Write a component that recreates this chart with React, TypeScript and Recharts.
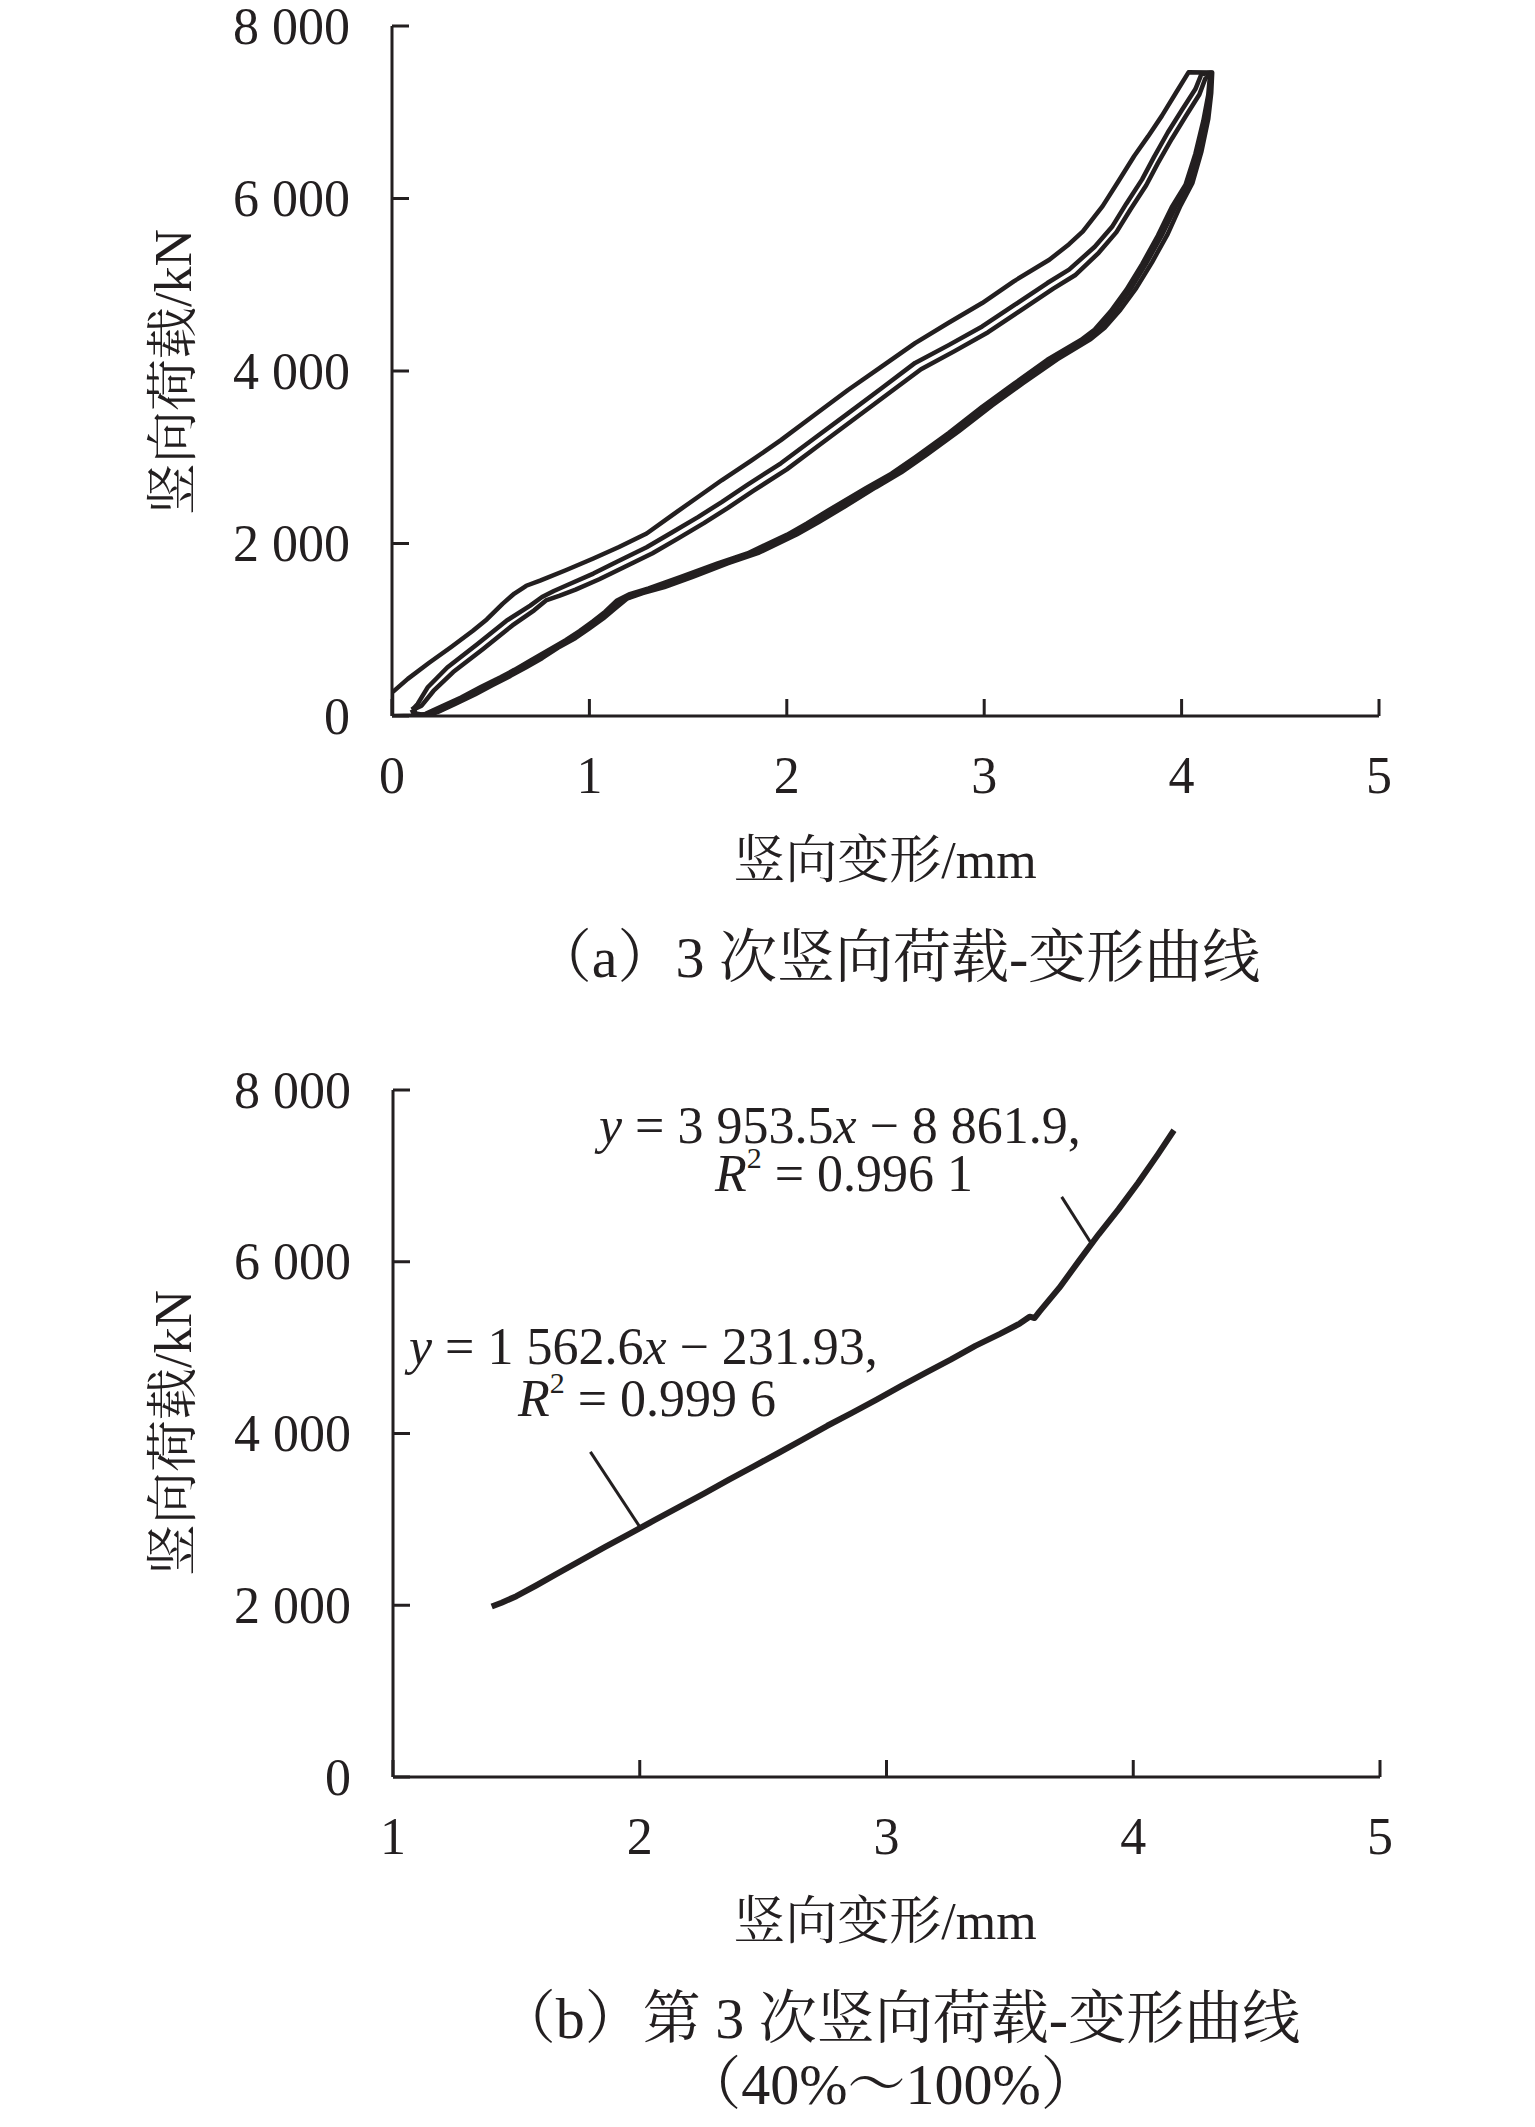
import React from 'react';
import { LineChart, Line, XAxis, YAxis, ReferenceLine } from 'recharts';

const INK = '#231f20';
const SERIF = "'Liberation Serif','Times New Roman','Noto Serif CJK SC','Noto Sans CJK SC',serif";

// ---- axes ----
const yTicks = [0, 2000, 4000, 6000, 8000];
const yTickLabels = ['0', '2 000', '4 000', '6 000', '8 000'];
const xTicksA = [0, 1, 2, 3, 4, 5];
const xTicksB = [1, 2, 3, 4, 5];

// ---- panel (a): three load-deformation loops [deformation mm, load kN] ----
const loading1: number[][] = [
  [0.00, 0], [0.12, 5], [0.17, 25], [0.25, 110], [0.35, 215], [0.45, 335], [0.55, 450], [0.62, 535],
  [0.70, 640], [0.79, 760], [0.88, 880], [0.95, 985], [1.02, 1100], [1.08, 1210], [1.14, 1340],
  [1.20, 1410], [1.30, 1480], [1.46, 1610], [1.65, 1770], [1.80, 1885], [2.00, 2100], [2.10, 2230],
  [2.21, 2385], [2.40, 2640], [2.53, 2810], [2.65, 3000], [2.82, 3280], [2.99, 3585], [3.15, 3850],
  [3.32, 4130], [3.49, 4360], [3.56, 4480], [3.64, 4690], [3.72, 4940], [3.80, 5240], [3.88, 5570],
  [3.95, 5900], [4.02, 6160], [4.07, 6520], [4.11, 6900], [4.135, 7200], [4.145, 7460],
];
const unloading1: number[][] = [
  [4.145, 7460], [4.035, 7463], [3.97, 7220], [3.90, 6958], [3.83, 6720], [3.76, 6493], [3.68, 6200],
  [3.60, 5912], [3.50, 5620], [3.43, 5470], [3.33, 5290], [3.15, 5040], [2.99, 4788], [2.82, 4560],
  [2.65, 4323], [2.48, 4050], [2.31, 3780], [2.14, 3490], [1.97, 3198], [1.82, 2960], [1.67, 2733],
  [1.55, 2539], [1.42, 2330], [1.29, 2116], [1.15, 1960], [1.02, 1826], [0.88, 1690], [0.75, 1570],
  [0.68, 1510], [0.62, 1420], [0.56, 1300], [0.48, 1120], [0.41, 988], [0.30, 800], [0.19, 620],
  [0.08, 430], [0.00, 271], [0.00, 0],
];
const loading2: number[][] = [
  [0.10, 75], [0.11, 25], [0.15, 10], [0.21, 30], [0.29, 115], [0.39, 225], [0.48, 335], [0.57, 440],
  [0.65, 540], [0.73, 645], [0.81, 765], [0.90, 880], [0.97, 990], [1.04, 1105], [1.10, 1215],
  [1.16, 1335], [1.23, 1405], [1.33, 1475], [1.49, 1605], [1.67, 1765], [1.83, 1885], [2.02, 2095],
  [2.13, 2235], [2.24, 2385], [2.42, 2640], [2.55, 2815], [2.67, 3005], [2.84, 3285], [3.01, 3585],
  [3.17, 3855], [3.34, 4125], [3.51, 4360], [3.58, 4485], [3.66, 4695], [3.74, 4945], [3.82, 5245],
  [3.90, 5575], [3.97, 5905], [4.04, 6165], [4.09, 6525], [4.125, 6905], [4.145, 7205], [4.15, 7460],
];
const unloading2: number[][] = [
  [4.15, 7460], [4.10, 7440], [4.07, 7269], [4.00, 7020], [3.93, 6765], [3.86, 6480], [3.80, 6222],
  [3.72, 5940], [3.65, 5679], [3.56, 5440], [3.43, 5175], [3.32, 5020], [3.15, 4760], [2.99, 4516],
  [2.82, 4300], [2.65, 4094], [2.48, 3800], [2.31, 3509], [2.14, 3220], [1.97, 2930], [1.80, 2680],
  [1.67, 2480], [1.55, 2306], [1.42, 2130], [1.29, 1957], [1.15, 1800], [1.02, 1651], [0.90, 1530],
  [0.82, 1450], [0.76, 1380], [0.70, 1280], [0.58, 1105], [0.43, 830], [0.28, 562], [0.18, 330],
  [0.13, 140], [0.11, 90], [0.10, 75],
];
const loading3: number[][] = [
  [0.11, 80], [0.12, 30], [0.17, 10], [0.23, 45], [0.32, 140], [0.42, 250], [0.51, 360], [0.60, 465],
  [0.68, 565], [0.76, 670], [0.84, 790], [0.93, 905], [1.00, 1015], [1.07, 1130], [1.13, 1245],
  [1.19, 1360], [1.27, 1425], [1.38, 1495], [1.52, 1610], [1.70, 1770], [1.86, 1895], [2.05, 2105],
  [2.16, 2245], [2.27, 2395], [2.45, 2650], [2.58, 2825], [2.70, 3015], [2.87, 3300], [3.04, 3600],
  [3.20, 3865], [3.37, 4135], [3.54, 4370], [3.61, 4500], [3.69, 4710], [3.77, 4960], [3.85, 5260],
  [3.93, 5590], [3.995, 5920], [4.055, 6180], [4.10, 6540], [4.135, 6920], [4.15, 7220], [4.155, 7460],
];
const unloading3: number[][] = [
  [4.155, 7460], [4.12, 7390], [4.09, 7205], [4.02, 6950], [3.95, 6690], [3.88, 6410], [3.82, 6150],
  [3.74, 5870], [3.67, 5610], [3.58, 5370], [3.46, 5110], [3.35, 4955], [3.18, 4695], [3.02, 4450],
  [2.85, 4230], [2.68, 4020], [2.51, 3730], [2.34, 3440], [2.17, 3150], [2.00, 2860], [1.83, 2610],
  [1.70, 2410], [1.58, 2236], [1.45, 2060], [1.32, 1887], [1.18, 1730], [1.05, 1585], [0.93, 1465],
  [0.85, 1395], [0.78, 1340], [0.72, 1225], [0.61, 1050], [0.46, 775], [0.31, 510], [0.21, 290],
  [0.15, 120], [0.12, 88], [0.11, 80],
];

// ---- panel (b): third loading, 40%~100% ----
const thirdCycle: number[][] = [
  [1.40, 1985], [1.44, 2030], [1.50, 2105], [1.58, 2230], [1.66, 2360], [1.76, 2520], [1.86, 2680],
  [1.96, 2835], [2.06, 2990], [2.16, 3145], [2.26, 3300], [2.36, 3460], [2.46, 3615], [2.56, 3770],
  [2.66, 3930], [2.76, 4090], [2.86, 4240], [2.96, 4395], [3.06, 4555], [3.16, 4710], [3.26, 4860],
  [3.36, 5020], [3.46, 5160], [3.54, 5280], [3.58, 5360], [3.60, 5345], [3.62, 5420], [3.70, 5695],
  [3.78, 6010], [3.86, 6320], [3.94, 6610], [4.02, 6920], [4.10, 7250], [4.165, 7531],
];
const leaderUpper = [{ x: 3.71, y: 6755 }, { x: 3.83, y: 6212 }];
const leaderLower = [{ x: 1.80, y: 3786 }, { x: 2.0, y: 2913 }];

const toPts = (...parts: number[][][]) => parts.flat().map(([x, y]) => ({ x, y }));
const loop1 = toPts(loading1, unloading1);
const loop2 = toPts(loading2, unloading2);
const loop3 = toPts(loading3, unloading3);
const curveB = toPts(thirdCycle);

const TICK_LEN = 17;
const FS = 52;
const AXW = 60; // axis band reserved by recharts (ticks drawn custom)

function YTick(props: any) {
  const { x, y, payload } = props;
  const idx = yTicks.indexOf(payload.value);
  return (
    <g>
      <line x1={x} x2={x + TICK_LEN} y1={y} y2={y} stroke={INK} strokeWidth={3} />
      <text x={x - 42} y={y} textAnchor="end" dominantBaseline="central" fontSize={FS} fontFamily={SERIF} fill={INK}>
        {idx >= 0 ? yTickLabels[idx] : String(payload.value)}
      </text>
    </g>
  );
}

function XTick(props: any) {
  const { x, y, payload } = props;
  return (
    <g>
      <line x1={x} x2={x} y1={y} y2={y - TICK_LEN} stroke={INK} strokeWidth={3} />
      <text x={x} y={y + 59} textAnchor="middle" dominantBaseline="central" fontSize={FS} fontFamily={SERIF} fill={INK}>
        {String(payload.value)}
      </text>
    </g>
  );
}

const axisLine = { stroke: INK, strokeWidth: 3 };

export default function App() {
  return (
    <div style={{ position: 'absolute', left: 0, top: 0, width: 1535, height: 2127, background: '#fff' }}>
      <div style={{ position: 'absolute', left: 0, top: 0 }}>
        <LineChart width={1535} height={1000} margin={{ top: 26, right: 156, bottom: 284 - AXW, left: 392 - AXW }}>
          <XAxis type="number" dataKey="x" domain={[0, 5]} ticks={xTicksA} interval={0} height={AXW}
            tickSize={0} tickMargin={0} tickLine={false} axisLine={axisLine} tick={XTick} allowDataOverflow />
          <YAxis type="number" dataKey="y" domain={[0, 8000]} ticks={yTicks} interval={0} width={AXW}
            tickSize={0} tickMargin={0} tickLine={false} axisLine={axisLine} tick={YTick} allowDataOverflow />
          <Line data={loop1} dataKey="y" type="linear" stroke={INK} strokeWidth={4.5} dot={false} isAnimationActive={false} strokeLinejoin="round" />
          <Line data={loop2} dataKey="y" type="linear" stroke={INK} strokeWidth={4.5} dot={false} isAnimationActive={false} strokeLinejoin="round" />
          <Line data={loop3} dataKey="y" type="linear" stroke={INK} strokeWidth={4.5} dot={false} isAnimationActive={false} strokeLinejoin="round" />
        </LineChart>
      </div>
      <div style={{ position: 'absolute', left: 0, top: 1040 }}>
        <LineChart width={1535} height={1000} margin={{ top: 50, right: 155, bottom: 263 - AXW, left: 393 - AXW }}>
          <XAxis type="number" dataKey="x" domain={[1, 5]} ticks={xTicksB} interval={0} height={AXW}
            tickSize={0} tickMargin={0} tickLine={false} axisLine={axisLine} tick={XTick} allowDataOverflow />
          <YAxis type="number" dataKey="y" domain={[0, 8000]} ticks={yTicks} interval={0} width={AXW}
            tickSize={0} tickMargin={0} tickLine={false} axisLine={axisLine} tick={YTick} allowDataOverflow />
          <ReferenceLine segment={leaderUpper} stroke={INK} strokeWidth={3} ifOverflow="visible" />
          <ReferenceLine segment={leaderLower} stroke={INK} strokeWidth={3} ifOverflow="visible" />
          <Line data={curveB} dataKey="y" type="linear" stroke={INK} strokeWidth={6} dot={false} isAnimationActive={false} strokeLinejoin="round" />
        </LineChart>
      </div>
      <svg width={1535} height={2127} style={{ position: 'absolute', left: 0, top: 0, pointerEvents: 'none' }}>
        <g fontFamily={SERIF} fill={INK}>
          <text x={173} y={372} fontSize={FS} textAnchor="middle" dominantBaseline="central" transform="rotate(-90 173 372)">竖向荷载/kN</text>
          <text x={885} y={860} fontSize={FS} textAnchor="middle" dominantBaseline="central">竖向变形/mm</text>
          <text x={897} y={957} fontSize={58} textAnchor="middle" dominantBaseline="central">（a）3 次竖向荷载-变形曲线</text>
          <text x={173} y={1433} fontSize={FS} textAnchor="middle" dominantBaseline="central" transform="rotate(-90 173 1433)">竖向荷载/kN</text>
          <text x={885} y={1921} fontSize={FS} textAnchor="middle" dominantBaseline="central">竖向变形/mm</text>
          <text x={899} y={2018} fontSize={58} textAnchor="middle" dominantBaseline="central">（b）第 3 次竖向荷载-变形曲线</text>
          <text x={891} y={2084} fontSize={58} textAnchor="middle" dominantBaseline="central">（40%～100%）</text>
          <text x={599} y={1125} fontSize={FS} dominantBaseline="central">
            <tspan fontStyle="italic">y</tspan> = 3 953.5<tspan fontStyle="italic">x</tspan> − 8 861.9,
          </text>
          <text x={715} y={1173} fontSize={FS} dominantBaseline="central">
            <tspan fontStyle="italic">R</tspan><tspan fontSize={30} dy={-16}>2</tspan><tspan dy={16}> = 0.996 1</tspan>
          </text>
          <text x={409} y={1346} fontSize={FS} dominantBaseline="central">
            <tspan fontStyle="italic">y</tspan> = 1 562.6<tspan fontStyle="italic">x</tspan> − 231.93,
          </text>
          <text x={518} y={1398} fontSize={FS} dominantBaseline="central">
            <tspan fontStyle="italic">R</tspan><tspan fontSize={30} dy={-16}>2</tspan><tspan dy={16}> = 0.999 6</tspan>
          </text>
        </g>
      </svg>
    </div>
  );
}
